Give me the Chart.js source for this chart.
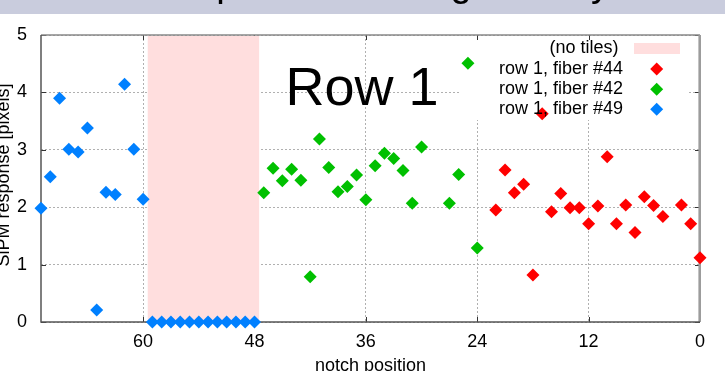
<!DOCTYPE html>
<html>
<head>
<meta charset="utf-8">
<script src="https://cdn.jsdelivr.net/npm/chart.js@4/dist/chart.umd.min.js"></script>
<style>
  html, body { margin: 0; padding: 0; background: #fff; }
  #wrap { position: relative; width: 725px; height: 371px; }
</style>
</head>
<body>
<div id="wrap"><canvas id="c"></canvas></div>
<script>
const FONT = "'Liberation Sans', Arial, sans-serif";

// Notch positions and SiPM responses (pixels) for each fiber of row 1
const fiber49Pos = [71, 70, 69, 68, 67, 66, 65, 64, 63, 62, 61, 60,
                    59, 58, 57, 56, 55, 54, 53, 52, 51, 50, 49, 48];
const fiber49Val = [1.98, 2.53, 3.90, 3.01, 2.96, 3.38, 0.21, 2.26, 2.22, 4.14, 3.01, 2.14,
                    0, 0, 0, 0, 0, 0, 0, 0, 0, 0, 0, 0];

const fiber42Pos = [47, 46, 45, 44, 43, 42, 41, 40, 39, 38, 37, 36, 35, 34, 33, 32, 31, 30,
                    27, 26, 25, 24];
const fiber42Val = [2.25, 2.68, 2.46, 2.66, 2.47, 0.79, 3.19, 2.69, 2.27, 2.36, 2.56, 2.13,
                    2.72, 2.94, 2.85, 2.64, 2.07, 3.05, 2.07, 2.57, 4.51, 1.29];

const fiber44Pos = [22, 21, 20, 19, 18, 17, 16, 15, 14, 13, 12, 11, 10, 9, 8, 7, 6, 5, 4,
                    2, 1, 0];
const fiber44Val = [1.95, 2.65, 2.25, 2.40, 0.82, 3.63, 1.92, 2.24, 1.99, 1.99, 1.71, 2.02,
                    2.88, 1.71, 2.04, 1.56, 2.18, 2.03, 1.84, 2.04, 1.71, 1.12];

// Notch range without tiles
const noTilesRange = [47.5, 59.5];

const xTickValues = [60, 48, 36, 24, 12, 0];
const yTickValues = [0, 1, 2, 3, 4, 5];

const slideTitle = 'SiPM response vs. tile geometry';
const rowLabel = 'Row 1';
const xTitle = 'notch position';
const yTitle = 'SiPM response [pixels]';
const noTilesLabel = '(no tiles)';

const seriesNames = ['row 1, fiber #44', 'row 1, fiber #42', 'row 1, fiber #49'];
const seriesColors = ['#ff0000', '#00c000', '#0080ff'];
const noTilesColor = '#ffdede';

const toPoints = (xs, ys) => xs.map((x, i) => ({ x: x, y: ys[i] }));

function pointDataset(label, color, xs, ys) {
  return {
    label: label,
    data: toPoints(xs, ys),
    showLine: false,
    clip: false,
    pointStyle: 'rectRot',
    pointRadius: 6.5,
    pointHoverRadius: 6.5,
    pointBorderWidth: 0,
    backgroundColor: color,
    borderColor: color
  };
}

const decor = {
  id: 'decor',
  beforeDraw(chart) {
    const ctx = chart.ctx;
    ctx.save();
    ctx.fillStyle = '#fff';
    ctx.fillRect(0, 0, chart.width, chart.height);
    // slide header strip with its clipped title
    ctx.fillStyle = '#c9ccdd';
    ctx.fillRect(0, 0, chart.width, 14);
    ctx.beginPath();
    ctx.rect(0, 0, chart.width, 14);
    ctx.clip();
    ctx.fillStyle = '#000';
    ctx.font = '38.3px ' + FONT;
    ctx.textAlign = 'left';
    ctx.textBaseline = 'alphabetic';
    ctx.fillText(slideTitle, 61, -4.2);
    ctx.restore();
  },
  beforeDatasetsDraw(chart) {
    const ctx = chart.ctx;
    const xs = chart.scales.x, ys = chart.scales.y;
    const L = xs.getPixelForValue(xs.max), R = xs.getPixelForValue(xs.min);
    const T = ys.getPixelForValue(ys.max), B = ys.getPixelForValue(ys.min);
    ctx.save();

    // key box background
    ctx.fillStyle = '#fff';
    ctx.fillRect(460, T + 1, 228, 84);

    // inward tick marks on all four sides
    ctx.strokeStyle = '#333';
    ctx.lineWidth = 1;
    ctx.beginPath();
    xTickValues.forEach(v => {
      const px = Math.round(xs.getPixelForValue(v)) + 0.5;
      ctx.moveTo(px, B); ctx.lineTo(px, B - 5);
      ctx.moveTo(px, T); ctx.lineTo(px, T + 5);
    });
    yTickValues.forEach(v => {
      const py = Math.round(ys.getPixelForValue(v)) + 0.5;
      ctx.moveTo(L, py); ctx.lineTo(L + 5, py);
      ctx.moveTo(R, py); ctx.lineTo(R - 5, py);
    });
    ctx.stroke();

    // band of notches without tiles
    const bx1 = xs.getPixelForValue(noTilesRange[1]);
    const bx2 = xs.getPixelForValue(noTilesRange[0]);
    ctx.fillStyle = noTilesColor;
    ctx.fillRect(bx1, T + 1, bx2 - bx1, B - T - 1);

    // frame
    ctx.lineWidth = 1.5;
    ctx.strokeStyle = '#888';
    ctx.beginPath();
    ctx.moveTo(L, T); ctx.lineTo(R, T);
    ctx.stroke();
    ctx.strokeStyle = '#9c9c9c';
    ctx.lineWidth = 2.6;
    ctx.beginPath();
    ctx.moveTo(R - 0.3, T); ctx.lineTo(R - 0.3, B);
    ctx.stroke();
    ctx.strokeStyle = '#555';
    ctx.lineWidth = 1.5;
    ctx.beginPath();
    ctx.moveTo(L, T); ctx.lineTo(L, B); ctx.lineTo(R, B);
    ctx.stroke();
    ctx.restore();
  },
  afterDatasetsDraw(chart) {
    const ctx = chart.ctx;
    const xs = chart.scales.x;
    ctx.save();
    ctx.fillStyle = '#000';

    // key
    ctx.font = '18px ' + FONT;
    ctx.textAlign = 'right';
    ctx.textBaseline = 'middle';
    ctx.fillText(noTilesLabel, 618.5, 48.5);
    ctx.fillStyle = noTilesColor;
    ctx.fillRect(634, 43, 46, 11);
    const rows = [69, 89.3, 109.3];
    seriesNames.forEach((name, i) => {
      ctx.fillStyle = '#000';
      ctx.fillText(name, 623, rows[i]);
      ctx.fillStyle = seriesColors[i];
      Chart.helpers.drawPoint(ctx, { pointStyle: 'rectRot', radius: 6.5, borderWidth: 0, rotation: 0 }, 656.7, rows[i]);
    });

    // row label
    ctx.fillStyle = '#000';
    ctx.font = '54px ' + FONT;
    ctx.textAlign = 'center';
    ctx.textBaseline = 'alphabetic';
    ctx.fillText(rowLabel, 362, 105);

    // axis titles
    ctx.font = '18px ' + FONT;
    const mid = (xs.getPixelForValue(xs.max) + xs.getPixelForValue(xs.min)) / 2;
    ctx.fillText(xTitle, mid, 370.5);
    ctx.translate(8.5, 175);
    ctx.rotate(-Math.PI / 2);
    ctx.fillText(yTitle, 0, 0);
    ctx.restore();
  }
};

Chart.defaults.font.family = FONT;
Chart.defaults.font.size = 18;
Chart.defaults.color = '#000';

new Chart(document.getElementById('c'), {
  type: 'scatter',
  data: {
    datasets: [
      pointDataset(seriesNames[0], seriesColors[0], fiber44Pos, fiber44Val),
      pointDataset(seriesNames[1], seriesColors[1], fiber42Pos, fiber42Val),
      pointDataset(seriesNames[2], seriesColors[2], fiber49Pos, fiber49Val)
    ]
  },
  options: {
    responsive: true,
    maintainAspectRatio: false,
    animation: false,
    events: [],
    layout: { padding: { left: 0, right: 25, top: 35, bottom: 0 } },
    plugins: { legend: { display: false }, tooltip: { enabled: false }, title: { display: false } },
    scales: {
      x: {
        type: 'linear',
        reverse: true,
        min: 0,
        max: 71,
        afterBuildTicks: s => { s.ticks = xTickValues.map(v => ({ value: v })); },
        afterFit: s => { s.height = 49; },
        ticks: { padding: 9, autoSkip: false, maxRotation: 0, color: '#000', font: { size: 18 } },
        grid: { color: '#b0b0b0', lineWidth: 1, drawTicks: false },
        border: { display: false, dash: [2, 2] }
      },
      y: {
        type: 'linear',
        min: 0,
        max: 5,
        afterBuildTicks: s => { s.ticks = yTickValues.map(v => ({ value: v })); },
        afterFit: s => { s.width = 41; },
        ticks: { padding: 14, color: '#000', font: { size: 18 } },
        grid: { color: '#b0b0b0', lineWidth: 1, drawTicks: false },
        border: { display: false, dash: [2, 2] }
      }
    }
  },
  plugins: [decor]
});
</script>
</body>
</html>
